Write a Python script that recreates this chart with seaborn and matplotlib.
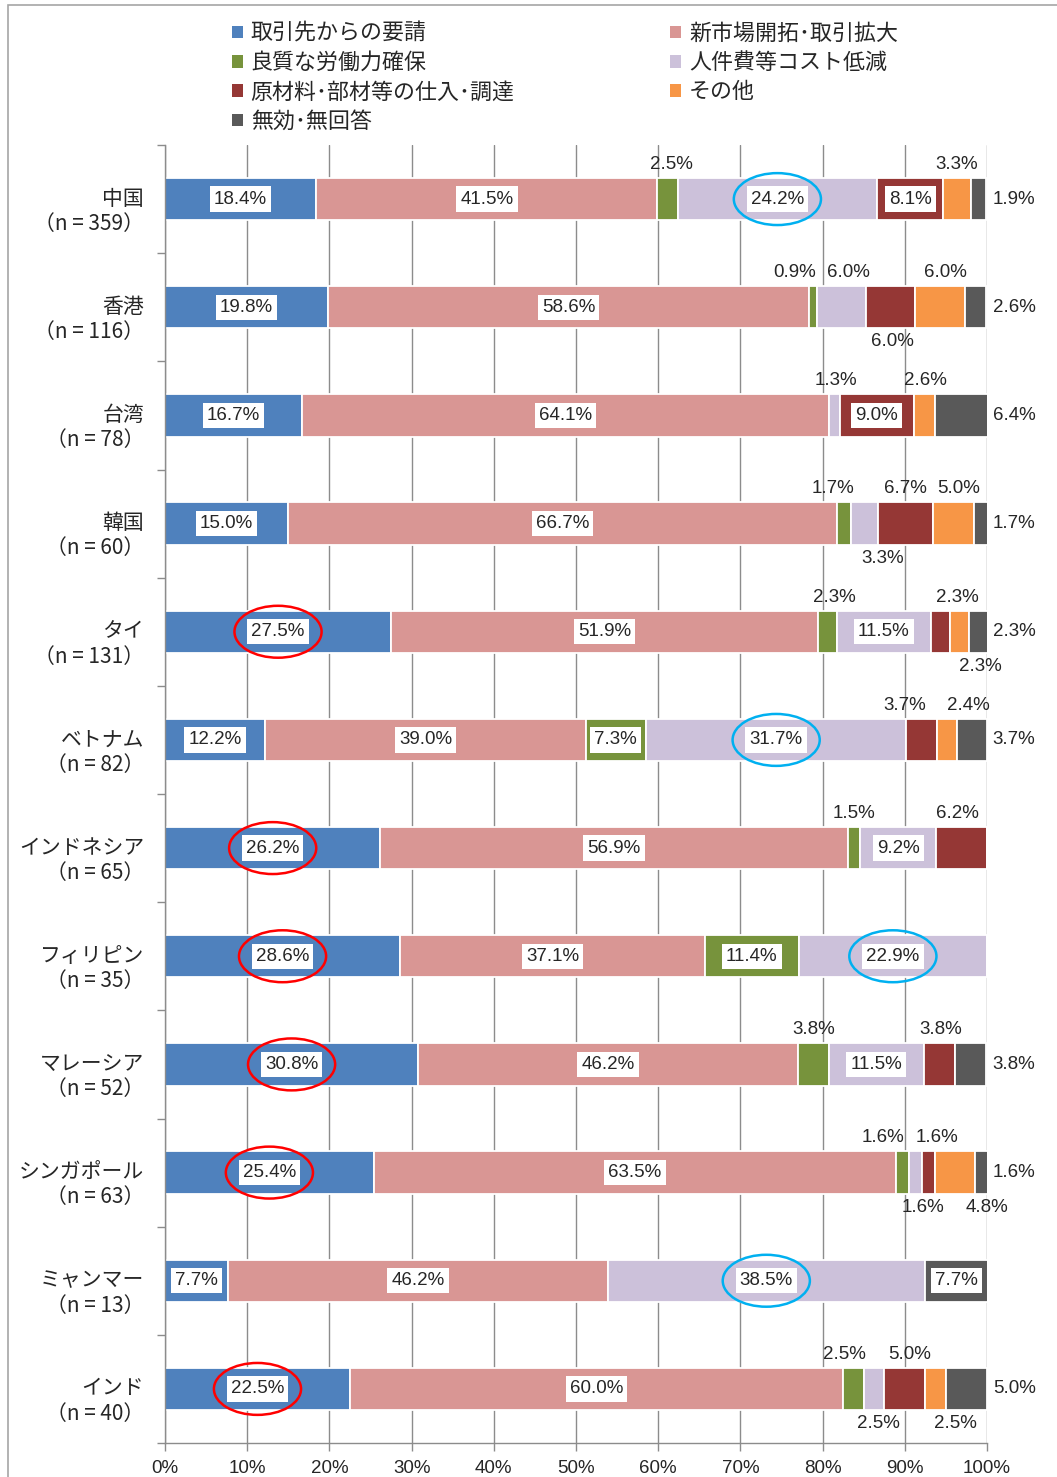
import numpy as np
import pandas as pd
import matplotlib
matplotlib.use("Agg")
import matplotlib.pyplot as plt
import matplotlib.transforms as mtransforms
import seaborn as sns
from matplotlib.patches import Ellipse, Rectangle

# ---------------- data ----------------
countries = ["中国", "香港", "台湾", "韓国", "タイ", "ベトナム", "インドネシア",
             "フィリピン", "マレーシア", "シンガポール", "ミャンマー", "インド"]
sample_sizes = [359, 116, 78, 60, 131, 82, 65, 35, 52, 63, 13, 40]

series_names = ["取引先からの要請", "新市場開拓･取引拡大", "良質な労働力確保",
                "人件費等コスト低減", "原材料･部材等の仕入･調達", "その他", "無効･無回答"]

request    = [18.4, 19.8, 16.7, 15.0, 27.5, 12.2, 26.2, 28.6, 30.8, 25.4, 7.7, 22.5]
new_market = [41.5, 58.6, 64.1, 66.7, 51.9, 39.0, 56.9, 37.1, 46.2, 63.5, 46.2, 60.0]
labor      = [2.5, 0.9, 0.0, 1.7, 2.3, 7.3, 1.5, 11.4, 3.8, 1.6, 0.0, 2.5]
cost       = [24.2, 6.0, 1.3, 3.3, 11.5, 31.7, 9.2, 22.9, 11.5, 1.6, 38.5, 2.5]
materials  = [8.1, 6.0, 9.0, 6.7, 2.3, 3.7, 6.2, 0.0, 3.8, 1.6, 0.0, 5.0]
other      = [3.3, 6.0, 2.6, 5.0, 2.3, 2.4, 0.0, 0.0, 0.0, 4.8, 0.0, 2.5]
no_answer  = [1.9, 2.6, 6.4, 1.7, 2.3, 3.7, 0.0, 0.0, 3.8, 1.6, 7.7, 5.0]

x_tick_values = [0, 10, 20, 30, 40, 50, 60, 70, 80, 90, 100]

# highlighted labels (country index, series index)
red_highlight = [(4, 0), (6, 0), (7, 0), (8, 0), (9, 0), (11, 0)]
blue_highlight = [(0, 3), (5, 3), (7, 3), (10, 3)]

# ---------------- styling / layout ----------------
colors = ["#4F81BD", "#D99694", "#77933C", "#CCC1DA", "#953735", "#F79646", "#595959"]
below_labels = {(1, 4), (3, 3), (4, 5), (9, 3), (9, 5), (11, 3), (11, 5)}
label_dx = {(0, 2): 0.5,
            (1, 2): -2.3, (1, 3): 0.9, (1, 4): 0.2, (1, 5): 0.6,
            (2, 3): 0.2, (2, 5): 0.1,
            (3, 2): -1.3, (3, 3): 2.2, (3, 5): 0.6,
            (4, 2): 0.9, (4, 4): 2.1, (4, 5): 2.5,
            (5, 4): -2.1, (5, 5): 2.6,
            (6, 4): -0.5, (8, 4): 0.2,
            (9, 2): -2.4, (9, 3): 0.9, (9, 4): 1.0, (9, 5): 3.9,
            (11, 2): -1.1, (11, 3): 0.6, (11, 4): 0.6, (11, 5): 2.4}

sns.set_style("white")
plt.rcParams["font.family"] = ["Liberation Sans", "Noto Sans CJK JP", "DejaVu Sans"]
CJK = ["Noto Sans CJK JP", "DejaVu Sans"]
NUM_FS = 13.5
GRID = "#8C8C8C"

W, H = 1057, 1477
fig = plt.figure(figsize=(W / 100, H / 100), dpi=100)
ax = fig.add_axes([165 / W, 1 - 1443 / H, 822 / W, 1298 / H])

ylabels = [f"{c}\n（n = {n}）" for c, n in zip(countries, sample_sizes)]
values = [request, new_market, labor, cost, materials, other, no_answer]

left = np.zeros(len(countries))
for name, vals, col in zip(series_names, values, colors):
    sns.barplot(x=vals, y=ylabels, order=ylabels, orient="h", left=left.copy(),
                color=col, saturation=1, width=0.39, edgecolor="white",
                linewidth=1.3, ax=ax, label=name)
    left += np.array(vals)

# ---------------- value labels ----------------
starts = np.zeros(len(countries))
for s, vals in enumerate(values):
    for i, v in enumerate(vals):
        x0 = starts[i]
        if v > 0:
            cx = x0 + v / 2
            txt = f"{v:.1f}%"
            if v >= 7:
                ax.text(cx, i, txt, ha="center", va="center", fontsize=NUM_FS,
                        bbox=dict(boxstyle="square,pad=0.22", fc="white", ec="none"),
                        zorder=5)
            elif s == len(values) - 1:
                ax.text(100.7, i, txt, ha="left", va="center", fontsize=NUM_FS,
                        clip_on=False)
            else:
                dy = 0.32 if (i, s) in below_labels else -0.32
                ax.text(cx + label_dx.get((i, s), 0.0), i + dy, txt, ha="center",
                        va="center", fontsize=NUM_FS, zorder=5)
        starts[i] += v

# highlight ellipses around labels
cum = np.cumsum(np.array(values), axis=0)
for pairs, ec in ((red_highlight, "#FF0000"), (blue_highlight, "#00B0F0")):
    for i, s in pairs:
        lo = cum[s - 1][i] if s > 0 else 0.0
        cx = lo + values[s][i] / 2
        ax.add_patch(Ellipse((cx, i), width=10.6, height=0.48, fill=False,
                             ec=ec, lw=1.8, zorder=6, clip_on=False))

# ---------------- axes ----------------
ax.set_xlim(0, 100)
ax.set_ylim(len(countries) - 0.5, -0.5)
ax.set_xticks(x_tick_values)
ax.set_xticklabels([f"{t}%" for t in x_tick_values], fontsize=NUM_FS)
ax.set_xlabel("")
ax.set_ylabel("")
ax.xaxis.grid(True, color=GRID, lw=1.0)
ax.yaxis.grid(False)
ax.set_axisbelow(True)
for sp in ["top", "right"]:
    ax.spines[sp].set_visible(False)
for sp in ["left", "bottom"]:
    ax.spines[sp].set_color(GRID)
    ax.spines[sp].set_linewidth(1.0)
ax.tick_params(axis="x", direction="out", length=6, color=GRID, width=1, pad=6,
               bottom=True)
ax.set_yticks(range(len(countries)))
ax.set_yticklabels(ylabels, fontsize=15, ha="right", multialignment="right",
                   linespacing=1.2)
ax.tick_params(axis="y", which="major", length=0, pad=15, left=True)
ax.set_yticks(np.arange(-0.5, len(countries), 1.0), minor=True)
ax.tick_params(axis="y", which="minor", length=6, color=GRID, width=1, left=True)
shift = mtransforms.ScaledTranslation(0, -8 / 100, fig.dpi_scale_trans)
for t in ax.get_yticklabels():
    t.set_family(CJK)
    t.set_transform(t.get_transform() + shift)

# ---------------- legend ----------------
handles = [Rectangle((0, 0), 1, 1, fc=c, ec="none") for c in colors]
order = [0, 2, 4, 6, 1, 3, 5]
if ax.get_legend():
    ax.get_legend().remove()
fig.legend([handles[k] for k in order], [series_names[k] for k in order],
           loc="upper left", bbox_to_anchor=(232 / W, 1 - 23 / H), ncol=2,
           frameon=False, prop={"family": CJK, "size": 15.8}, borderpad=0,
           handlelength=0.5, handleheight=0.5, handletextpad=0.35,
           labelspacing=0.33, columnspacing=7.1, borderaxespad=0)

# outer frame
fig.add_artist(Rectangle((8 / W, -0.1), 1.2, 1 - 5 / H + 0.1, transform=fig.transFigure,
                         fill=False, ec="#A6A6A6", lw=1.2))

fig.savefig("out.png", dpi=100)
